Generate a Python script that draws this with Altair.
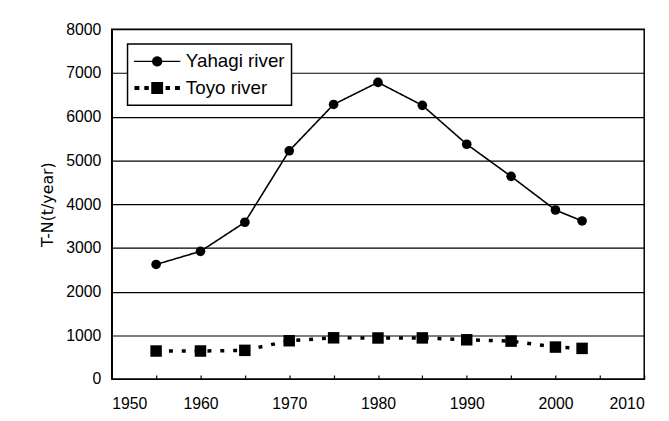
import math
import altair as alt
import pandas as pd

# ---- data ----
series = ["Yahagi river", "Toyo river"]
years_yahagi = [1955, 1960, 1965, 1970, 1975, 1980, 1985, 1990, 1995, 2000, 2003]
yahagi = [2620, 2920, 3585, 5220, 6280, 6785, 6260, 5370, 4635, 3865, 3615]
years_toyo = [1955, 1960, 1965, 1970, 1975, 1980, 1985, 1990, 1995, 2000, 2003]
toyo = [640, 640, 655, 875, 942, 938, 940, 897, 866, 730, 700]
x_ticks = list(range(1950, 2011, 5))
y_ticks = list(range(0, 8001, 1000))

df = pd.DataFrame({
    "year": years_yahagi + years_toyo,
    "value": yahagi + toyo,
    "river": [series[0]] * len(yahagi) + [series[1]] * len(toyo),
})


# legend symbols: line with marker (units of sqrt(size)/2 px), only M/L/Z commands
def rect(x0, x1, h):
    return f"M{x0},{-h}L{x1},{-h}L{x1},{h}L{x0},{h}Z"


def circle(r, n=20):
    pts = [(r * math.cos(2 * math.pi * k / n), r * math.sin(2 * math.pi * k / n)) for k in range(n)]
    return "M" + "L".join(f"{px:.3f},{py:.3f}" for px, py in pts) + "Z"


path_yahagi = rect(-2.35, 2.35, 0.07) + circle(0.52)
path_toyo = (rect(-2.3, -1.8, 0.2) + rect(-1.3, -0.85, 0.2) + rect(-0.6, 0.6, 0.6)
             + rect(0.85, 1.3, 0.2) + rect(1.8, 2.3, 0.2))

x_enc = alt.X(
    "year:Q",
    scale=alt.Scale(domain=[1950, 2010], nice=False, zero=False),
    axis=alt.Axis(
        values=x_ticks, format="d", title=None, grid=False, domain=False,
        labelExpr="datum.value % 10 === 0 ? datum.label : ''",
        labelOverlap=False, tickSize=4, tickColor="black", tickWidth=1.2,
        offset=-4, labelPadding=17,
    ),
)
y_enc = alt.Y(
    "value:Q",
    scale=alt.Scale(domain=[0, 8000], nice=False),
    axis=alt.Axis(
        values=y_ticks, format="d", title="T-N(t/year)", ticks=False,
        grid=True, gridColor="black", gridWidth=1.2, gridOpacity=1,
        labelPadding=11, titlePadding=10,
        titleFont="DejaVu Sans", titleFontSize=16, titleFontWeight="normal",
        titleColor="black",
    ),
)

lines = alt.Chart(df).mark_line(color="black").encode(
    x=x_enc, y=y_enc, detail="river:N",
    strokeDash=alt.StrokeDash("river:N", scale=alt.Scale(domain=series, range=[[1, 0], [4, 9]]), legend=None),
    strokeWidth=alt.StrokeWidth("river:N", scale=alt.Scale(domain=series, range=[1.6, 3.5]), legend=None),
)

points = alt.Chart(df).mark_point(filled=True, color="black", opacity=1).encode(
    x=x_enc, y=y_enc,
    shape=alt.Shape("river:N", scale=alt.Scale(domain=series, range=["circle", "square"]), legend=None),
    size=alt.Size("river:N", scale=alt.Scale(domain=series, range=[95, 135]), legend=None),
)

legend_layer = alt.Chart(df).transform_filter("false").mark_point(
    fill="black", stroke="black", strokeWidth=1, opacity=1, size=400
).encode(
    x=x_enc, y=y_enc,
    shape=alt.Shape(
        "river:N",
        scale=alt.Scale(domain=series, range=[path_yahagi, path_toyo]),
        legend=alt.Legend(
            title=None, orient="none", legendX=16, legendY=15,
            labelFont="Liberation Sans", labelFontSize=19, labelColor="black",
            labelLimit=0, symbolOffset=12.5, labelOffset=18.5, padding=7,
            rowPadding=6, strokeColor="black", fillColor="white",
            symbolStrokeColor="black", symbolFillColor="black",
            symbolStrokeWidth=1, symbolSize=400, symbolOpacity=1,
        ),
    ),
)

chart = alt.layer(lines, points, legend_layer).resolve_scale(shape="independent").properties(
    width=539, height=354,
    autosize=alt.AutoSizeParams(type="none"),
    padding={"left": 105, "top": 19, "right": 17, "bottom": 40},
    background="white",
).configure_view(
    stroke="black", strokeWidth=1.5
).configure_axis(
    domainColor="black", domainWidth=1.5,
    labelFont="Liberation Sans", labelFontSize=16, labelColor="black",
).configure_legend(
    strokeWidth=1.5
)

chart.save("out.html", embed_options={"renderer": "svg", "actions": False})
